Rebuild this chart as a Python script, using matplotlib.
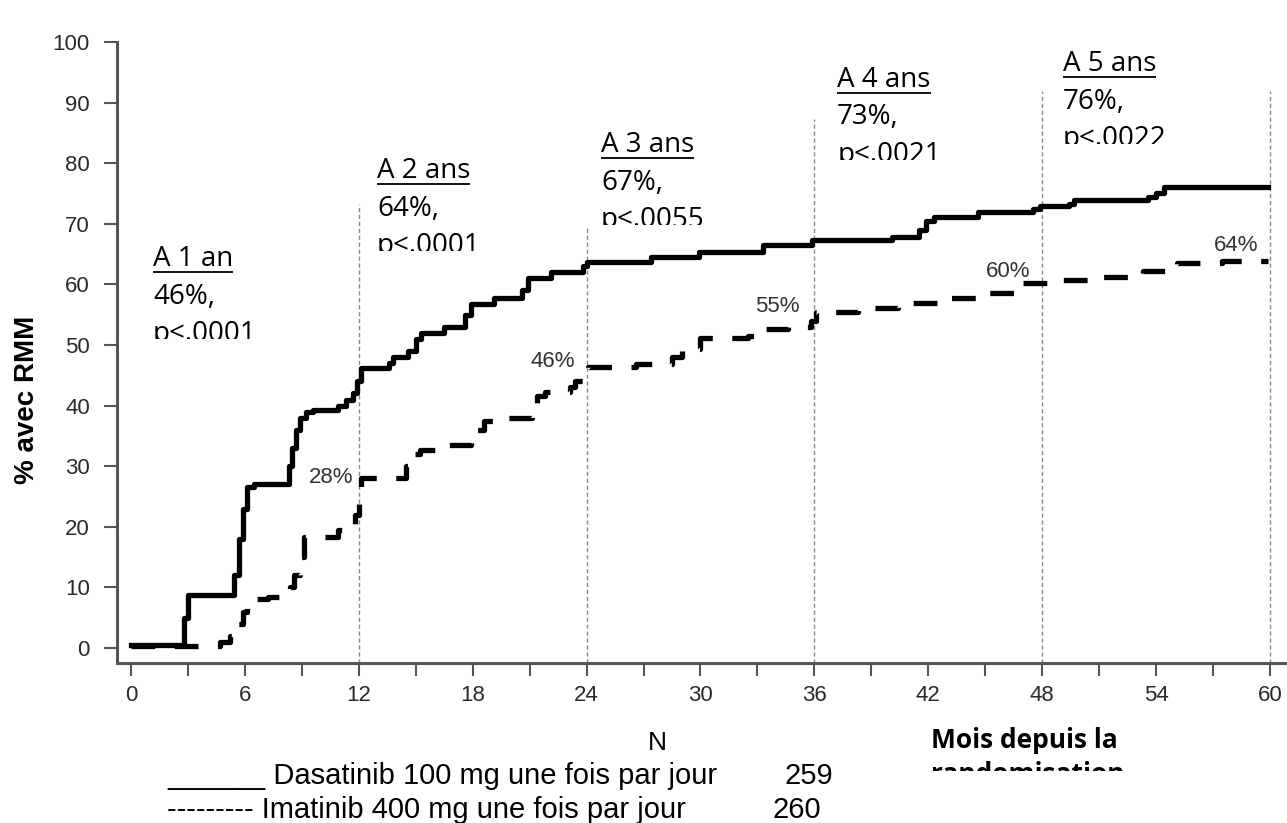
import matplotlib
matplotlib.use("Agg")
import matplotlib.pyplot as plt
from matplotlib.transforms import Bbox, TransformedBbox

# cumulative rate of major molecular response (%)
months_dasa = [0, 2.8, 3.0, 5.4, 5.7, 5.9, 6.1, 6.5, 8.3, 8.5, 8.7, 8.9, 9.2, 9.6,
               10.9, 11.3, 11.7, 11.9, 12.1, 13.6, 13.8, 14.6, 15.0, 15.3, 16.5,
               17.6, 17.9, 19.1, 20.6, 20.9, 22.1, 23.8, 24.0, 27.4, 29.9, 33.3,
               35.9, 40.1, 41.5, 41.9, 42.3, 44.6, 47.5, 47.9, 49.4, 49.7, 53.6,
               54.0, 54.4, 59.9]
rmm_dasa = [0.5, 5, 8.8, 12, 18, 23, 26.5, 27, 30, 33, 36, 38, 39, 39.3,
            40, 41, 42, 44, 46.2, 47, 48, 49, 51, 52, 53,
            55, 56.8, 57.8, 59, 61, 62, 63, 63.7, 64.5, 65.3, 66.5,
            67.4, 67.9, 69, 70.5, 71.2, 71.9, 72.5, 72.9, 73.3, 74, 74.5,
            75, 76, 76]

months_ima = [0, 4.7, 5.2, 5.6, 5.9, 6.1, 7.2, 8.4, 8.6, 8.9, 9.1, 10.9, 11.3,
              11.8, 12.0, 12.1, 14.5, 14.8, 15.2, 16.2, 17.9, 18.2, 18.6, 19.6,
              21.1, 21.4, 21.8, 23.1, 23.4, 23.8, 24.1, 26.6, 28.5, 29.0, 30.0,
              32.5, 33.0, 34.6, 35.8, 36.1, 38.3, 40.4, 42.5, 44.7, 46.6, 47.0,
              48.8, 51.0, 53.3, 55.1, 57.5, 59.9]
rmm_ima = [0.3, 1, 2, 4, 6, 8, 8.4, 10, 12, 15, 18.3, 19.5, 20.5,
           22, 25, 28, 30, 32, 32.7, 33.5, 35, 36, 37.4, 38,
           40, 41.5, 42.3, 43, 44, 45, 46.3, 46.8, 48, 49.3, 51.2,
           51.5, 52.6, 53, 54, 55.5, 56.1, 57, 57.8, 58.5, 59.5, 60.3,
           60.8, 61.3, 62.2, 63.6, 63.8, 63.8]

years = [1, 2, 3, 4, 5]
year_labels = ["A 1 an", "A 2 ans", "A 3 ans", "A 4 ans", "A 5 ans"]
dasa_pct = [46, 64, 67, 73, 76]
p_values = [".0001", ".0001", ".0055", ".0021", ".0022"]
ima_pct = [28, 46, 55, 60, 64]

series_names = ["Dasatinib 100 mg une fois par jour",
                "Imatinib 400 mg une fois par jour"]
series_n = [259, 260]

W, H = 1287, 823
fig = plt.figure(figsize=(W / 100, H / 100), dpi=100)
ax = fig.add_axes([117 / W, 160 / H, 1170 / W, 621 / H])
ax.set_xlim(-0.74, 60.9)
ax.set_ylim(-2.48, 100)

# dotted reference lines at each year
line_tops = [73.2, 69.6, 87.3, 91.9, 91.9]
ax.vlines([12 * y for y in years], -2.48, line_tops, colors="#8a8a8a",
          lw=1.0, linestyles=(0, (3, 2)), zorder=1)

ax.step(months_dasa, rmm_dasa, where="post", color="black", lw=3.8, zorder=3)
ax.step(months_ima, rmm_ima, where="post", color="black", lw=3.8,
        dashes=(4.5, 3.7), zorder=3)

for side in ["top", "right"]:
    ax.spines[side].set_visible(False)
for side in ["left", "bottom"]:
    ax.spines[side].set_color("#555555")
    ax.spines[side].set_linewidth(2.2)

ax.set_xticks(range(0, 61, 6))
ax.set_xticks(range(3, 60, 6), minor=True)
ax.set_yticks(range(0, 101, 10))
ax.tick_params(axis="x", which="both", length=9, width=1.5, color="#555555",
               pad=7, labelsize=16, labelcolor="#2a2a2a")
ax.tick_params(axis="y", length=9.5, width=1.5, color="#555555",
               pad=10, labelsize=16, labelcolor="#2a2a2a")
for lab in ax.get_xticklabels() + ax.get_yticklabels():
    lab.set_family("Liberation Sans")

# imatinib value labels at each year
lab_y = [27.3, 46.4, 55.5, 61.2, 65.5]
lab_dx = [-0.3, -0.6, -0.8, -0.6, -0.6]
for yr, v, ly, dx in zip(years, ima_pct, lab_y, lab_dx):
    ax.text(12 * yr + dx, ly, f"{v}%", ha="right", va="baseline",
            fontsize=16, family="Liberation Sans", color="#333333")

# annotation blocks (title underlined, p-value line cut off)
renderer = fig.canvas.get_renderer()
block_dx = [1.16, 0.96, 0.76, 1.2, 1.1]
block_base = [63.0, 77.5, 81.8, 92.6, 95.2]
step = 6.2
for i, yr in enumerate(years):
    x0 = 12 * (yr - 1) + block_dx[i]
    yb = block_base[i]
    t1 = ax.text(x0, yb, year_labels[i], fontsize=20, family="Open Sans",
                 va="baseline", color="black")
    ax.text(x0, yb - step, f"{dasa_pct[i]}%,", fontsize=20, family="Open Sans",
            va="baseline", color="black")
    t3 = ax.text(x0, yb - 2 * step, f"p<{p_values[i]}", fontsize=20,
                 family="Open Sans", va="baseline", color="black", clip_on=True)
    t3.set_clip_box(TransformedBbox(
        Bbox([[x0 - 2, yb - 2 * step + 0.35], [x0 + 20, 110]]), ax.transData))
    bb = t1.get_window_extent(renderer).transformed(ax.transData.inverted())
    ax.plot([bb.x0, bb.x1], [yb - 0.95, yb - 0.95], color="black", lw=1.3,
            solid_capstyle="butt")

fig.text(27 / W, 1 - 400 / H, "% avec RMM", rotation=90, ha="center",
         va="center", fontsize=20, weight="bold", family="Liberation Sans")

# bottom legend / axis title
fig.text(657 / W, 1 - 750 / H, "N", ha="center", va="baseline", fontsize=19,
         family="Liberation Sans")
fig.text(931 / W, 1 - 748 / H, "Mois depuis la", ha="left", va="baseline",
         fontsize=19, weight="bold", family="Open Sans")
t = fig.text(931 / W, 1 - 782 / H, "randomisation", ha="left", va="baseline",
             fontsize=19, weight="bold", family="Open Sans", clip_on=True)
t.set_clip_box(TransformedBbox(Bbox([[0, 52 / H], [1, 1]]), fig.transFigure))

prefixes = ["______", "---------"]
base_y = [784, 818]
n_x = [785, 773]
for pre, name, n, by, nx in zip(prefixes, series_names, series_n, base_y, n_x):
    fig.text(167 / W, 1 - by / H, f"{pre} {name}", ha="left", va="baseline",
             fontsize=21, family="Liberation Sans")
    fig.text(nx / W, 1 - by / H, str(n), ha="left", va="baseline",
             fontsize=21, family="Liberation Sans")

fig.savefig("out.png", dpi=100, facecolor="white")
